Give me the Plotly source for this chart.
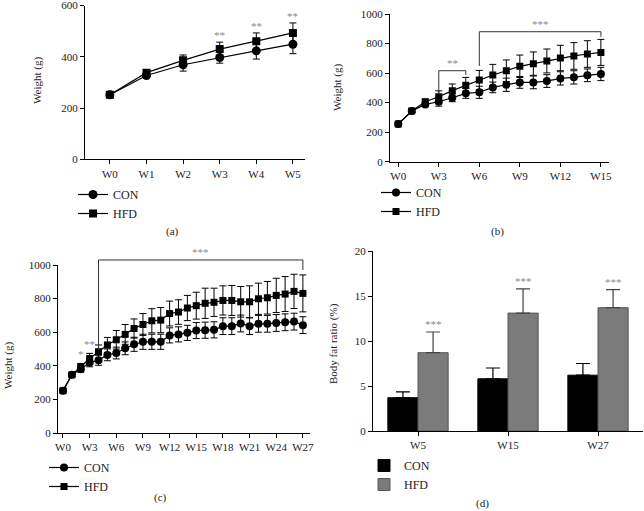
import plotly.graph_objects as go

# ---------------- data ----------------
weeks_a = ["W0", "W1", "W2", "W3", "W4", "W5"]
con_a = [252, 327, 369, 397, 423, 449]
con_a_err = [8, 10, 25, 22, 32, 37]
hfd_a = [252, 338, 386, 430, 461, 493]
hfd_a_err = [8, 10, 21, 27, 32, 39]

weeks_b = list(range(16))
con_b = [255, 343, 388, 406, 433, 463, 470, 503, 521, 537, 537, 546, 564, 571, 585, 594]
con_b_err = [8, 10, 15, 30, 27, 34, 41, 36, 45, 40, 43, 43, 45, 45, 43, 45]
hfd_b = [255, 343, 406, 440, 481, 517, 553, 587, 616, 646, 664, 682, 702, 716, 729, 740]
hfd_b_err = [8, 10, 18, 40, 45, 54, 65, 72, 73, 76, 79, 81, 86, 90, 90, 88]

weeks_c = list(range(28))
con_c = [252, 346, 380, 419, 433, 465, 476, 504, 528, 543, 543, 543, 581, 587,
         596, 610, 612, 614, 636, 636, 652, 636, 650, 650, 655, 659, 663, 642]
con_c_err = [8, 10, 18, 25, 30, 35, 35, 38, 42, 45, 45, 45, 45, 45,
             45, 48, 48, 48, 50, 50, 50, 50, 50, 50, 50, 50, 50, 50]
hfd_c = [252, 346, 394, 443, 484, 524, 555, 587, 622, 646, 668, 672, 711, 720,
         744, 758, 772, 778, 789, 789, 781, 781, 799, 805, 819, 827, 843, 831]
hfd_c_err = [8, 10, 20, 31, 40, 45, 55, 59, 57, 65, 72, 75, 74, 73,
             75, 80, 90, 84, 87, 89, 91, 95, 93, 97, 102, 104, 102, 110]

groups_d = ["W5", "W15", "W27"]
con_d = [3.7, 5.8, 6.2]
con_d_err = [0.65, 1.2, 1.3]
hfd_d = [8.7, 13.1, 13.7]
hfd_d_err = [2.3, 2.7, 2.0]

ticks_b = [0, 3, 6, 9, 12, 15]
ticks_c = [0, 3, 6, 9, 12, 15, 18, 21, 24, 27]

# significance: panel a stars at week index
stars_a = [3, 4, 5]
# brackets: (start idx, end idx, top, left bottom, right bottom, label)
brackets_b = [(3, 5, 616, 458, 587, "**"), (6, 15, 880, 648, 846, "***")]
brackets_c = [(4, 27, 1030, 494, 970, "***")]
stars_c = [(2, "*"), (3, "**")]

# ---------------- layout helpers ----------------
W, H = 644, 511
def fx(p):
    return p / W
def fy(p):
    return 1 - p / H

FONT = "Liberation Serif"
TXT = "#222"
STAR = "#8a8a8a"

fig = go.Figure()

def line_pair(xs, con, con_e, hfd, hfd_e, ax, leg, msize):
    xa, ya = ax
    fig.add_trace(go.Scatter(
        x=xs, y=con, name="CON", mode="lines+markers",
        line=dict(color="black", width=1.2),
        marker=dict(symbol="circle", size=msize + 1, color="black"),
        error_y=dict(type="data", array=con_e, color="black", thickness=1, width=3.5),
        xaxis=xa, yaxis=ya, legend=leg))
    fig.add_trace(go.Scatter(
        x=xs, y=hfd, name="HFD", mode="lines+markers",
        line=dict(color="black", width=1.2),
        marker=dict(symbol="square", size=msize, color="black"),
        error_y=dict(type="data", array=hfd_e, color="black", thickness=1, width=3.5),
        xaxis=xa, yaxis=ya, legend=leg))

xs_a = list(range(len(weeks_a)))
line_pair(xs_a, con_a, con_a_err, hfd_a, hfd_a_err, ("x", "y"), "legend", 8)
line_pair(weeks_b, con_b, con_b_err, hfd_b, hfd_b_err, ("x2", "y2"), "legend2", 7)
line_pair(weeks_c, con_c, con_c_err, hfd_c, hfd_c_err, ("x3", "y3"), "legend3", 7)

xs_d = list(range(len(groups_d)))
fig.add_trace(go.Bar(
    x=xs_d, y=con_d, name="CON", marker=dict(color="black", line=dict(color="black", width=1)),
    error_y=dict(type="data", symmetric=False, array=con_d_err, arrayminus=[0] * 3,
                 color="black", thickness=1.2, width=7),
    xaxis="x4", yaxis="y4", legend="legend4"))
fig.add_trace(go.Bar(
    x=xs_d, y=hfd_d, name="HFD", marker=dict(color="#7b7b7b", line=dict(color="#555", width=1)),
    error_y=dict(type="data", symmetric=False, array=hfd_d_err, arrayminus=[0] * 3,
                 color="#444", thickness=1.2, width=7),
    xaxis="x4", yaxis="y4", legend="legend4"))

def axis_style(**kw):
    d = dict(showline=True, linecolor="black", linewidth=1.2, ticks="outside",
             ticklen=4, tickwidth=1.2, tickcolor="black", showgrid=False,
             zeroline=False, automargin=False, ticklabeloverflow="allow",
             tickfont=dict(family=FONT, size=11, color=TXT))
    d.update(kw)
    return d

fig.update_layout(
    width=W, height=H, margin=dict(l=0, r=0, t=0, b=0, autoexpand=False),
    plot_bgcolor="white", paper_bgcolor="white",
    barmode="group", bargap=0.33, bargroupgap=0,
    xaxis=axis_style(domain=[fx(85), fx(305)], range=[-0.68, 5.33],
                     tickvals=xs_a, ticktext=weeks_a, anchor="y"),
    yaxis=axis_style(domain=[fy(159.3), fy(5.5)], range=[0, 600],
                     tickvals=[0, 200, 400, 600], anchor="x"),
    xaxis2=axis_style(domain=[fx(390), fx(609)], range=[-0.61, 15.6],
                      tickvals=ticks_b, ticktext=["W%d" % t for t in ticks_b], anchor="y2"),
    yaxis2=axis_style(domain=[fy(161.7), fy(14)], range=[0, 1000],
                      tickvals=[0, 200, 400, 600, 800, 1000], anchor="x2"),
    xaxis3=axis_style(domain=[fx(58), fx(310)], range=[-0.56, 27.8],
                      tickvals=ticks_c, ticktext=["W%d" % t for t in ticks_c], anchor="y3"),
    yaxis3=axis_style(domain=[fy(433), fy(265)], range=[0, 1000],
                      tickvals=[0, 200, 400, 600, 800, 1000], anchor="x3"),
    xaxis4=axis_style(domain=[fx(373), fx(643)], range=[-0.5, 2.5],
                      tickvals=xs_d, ticktext=groups_d, anchor="y4"),
    yaxis4=axis_style(domain=[fy(431), fy(251)], range=[0, 20],
                      tickvals=[0, 5, 10, 15, 20], anchor="x4"),
)

leg_common = dict(xanchor="left", yanchor="top", bgcolor="rgba(0,0,0,0)",
                  font=dict(family=FONT, size=12, color=TXT), tracegroupgap=0,
                  itemclick=False)
fig.update_layout(
    legend=dict(x=fx(73), y=fy(180), **leg_common),
    legend2=dict(x=fx(376), y=fy(178), **leg_common),
    legend3=dict(x=fx(44), y=fy(453), **leg_common),
    legend4=dict(x=fx(364), y=fy(451), **leg_common),
)

ann = []
# axis titles
for x, y, t in [(38, 81, "Weight (g)"), (337, 88, "Weight (g)"),
                (8, 366, "Weight (g)"), (333, 343, "Body fat ratio (%)")]:
    ann.append(dict(x=fx(x), y=fy(y), xref="paper", yref="paper", text=t,
                    textangle=-90, showarrow=False, xanchor="center", yanchor="middle",
                    font=dict(family=FONT, size=11, color=TXT)))
# captions
for x, y, t in [(172, 231, "(a)"), (497, 231, "(b)"), (160, 497, "(c)"), (482, 503, "(d)")]:
    ann.append(dict(x=fx(x), y=fy(y), xref="paper", yref="paper", text=t,
                    showarrow=False, xanchor="center", yanchor="middle",
                    font=dict(family=FONT, size=11, color=TXT)))

# panel a stars
for i in stars_a:
    ann.append(dict(x=i, y=hfd_a[i] + hfd_a_err[i], xref="x", yref="y", text="**",
                    yanchor="bottom", showarrow=False, yshift=-1,
                    font=dict(family=FONT, size=11, color=STAR)))
# panel c stars
for i, t in stars_c:
    ann.append(dict(x=i, y=hfd_c[i] + hfd_c_err[i], xref="x3", yref="y3", text=t,
                    yanchor="bottom", showarrow=False, yshift=1,
                    font=dict(family=FONT, size=11, color=STAR)))
# panel d stars
for i in range(len(groups_d)):
    ann.append(dict(x=i + 0.167, y=hfd_d[i] + hfd_d_err[i], xref="x4", yref="y4", text="***",
                    yanchor="bottom", showarrow=False, yshift=0,
                    font=dict(family=FONT, size=11, color=STAR)))

shapes = []
def brackets(blist, xn, rng, ymax):
    r0, r1 = rng
    for s, e, top, lb, rb, lab in blist:
        xs_ = (s - r0) / (r1 - r0)
        xe_ = (e - r0) / (r1 - r0)
        path = "M %f,%f L %f,%f L %f,%f L %f,%f" % (xs_, lb / ymax, xs_, top / ymax,
                                                      xe_, top / ymax, xe_, rb / ymax)
        shapes.append(dict(type="path", path=path, xref=xn + " domain", yref="y" + xn[1:] + " domain",
                           line=dict(color="#333", width=1)))
        ann.append(dict(x=((s + e) / 2 - r0) / (r1 - r0), y=top / ymax,
                        xref=xn + " domain", yref="y" + xn[1:] + " domain",
                        text=lab, yanchor="bottom", xanchor="center", showarrow=False, yshift=0,
                        font=dict(family=FONT, size=11, color=STAR)))

brackets(brackets_b, "x2", (-0.61, 15.6), 1000)
brackets(brackets_c, "x3", (-0.56, 27.8), 1000)

fig.update_layout(annotations=ann, shapes=shapes)
fig.write_html("out.html", config={"displayModeBar": False},
               post_script="document.body.style.margin='0';")
